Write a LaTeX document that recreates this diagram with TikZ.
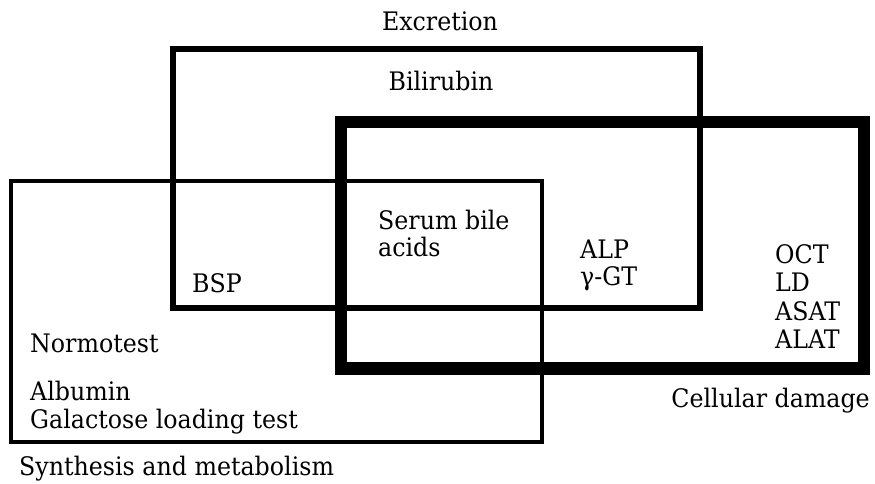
\documentclass[tikz,border=0pt]{standalone}
\usepackage{fontspec}
\setmainfont{DejaVu Serif}[FakeStretch=0.93]
\begin{document}
\begin{tikzpicture}[x=1pt,y=-1pt,
  lbl/.style={inner sep=0pt,anchor=base west,font=\fontsize{25.5}{28}\selectfont},
  clbl/.style={lbl,anchor=base},
  thinbox/.style={line width=4pt},
  midbox/.style={line width=6pt},
  heavybox/.style={line width=12.5pt}]
\useasboundingbox (0,0) rectangle (875,483);
% boxes
\draw[thinbox] (10.5,181) rectangle (542,442);
\draw[midbox] (172.5,49) rectangle (700,308);
\draw[heavybox] (341,122) rectangle (864,368.5);
% labels
\node[clbl] (exc) at (440,30) {Excretion};
\node[clbl] (bil) at (441,90) {Bilirubin};
\node[lbl] (sb1) at (378,229) {Serum bile};
\node[lbl] (sb2) at (378,256) {acids};
\node[lbl] (alp) at (580,258) {ALP};
\node[lbl] (ggt) at (580,285) {γ-GT};
\node[lbl] (bsp) at (192,292) {BSP};
\node[lbl] (oct) at (775,263) {OCT};
\node[lbl] (ld) at (775,291) {LD};
\node[lbl] (asat) at (775,320) {ASAT};
\node[lbl] (alat) at (775,348) {ALAT};
\node[lbl] (norm) at (30,352) {Normotest};
\node[lbl] (alb) at (30,400) {Albumin};
\node[lbl] (gal) at (30,428) {Galactose loading test};
\node[lbl,anchor=base east] (cell) at (870,407) {Cellular damage};
\node[lbl] (syn) at (19,475) {Synthesis and metabolism};
\end{tikzpicture}
\end{document}
